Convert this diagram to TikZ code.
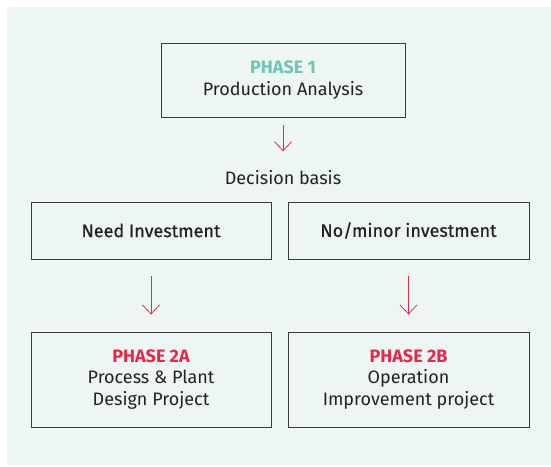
\documentclass[tikz,border=0pt]{standalone}
\usepackage{fontspec}
\setmainfont{Fira Sans}
\newfontfamily\medfont[FakeBold=0.6]{Fira Sans}
\usetikzlibrary{arrows.meta,positioning}

\definecolor{bgmint}{HTML}{EEF6F3}
\definecolor{phaseteal}{HTML}{6CC5B8}
\definecolor{phasered}{HTML}{E8284A}
\definecolor{boxline}{HTML}{3A3A3A}
\definecolor{inkgray}{HTML}{222222}

\begin{document}
\begin{tikzpicture}[x=1pt,y=-1pt,
	font=\fontsize{18}{21.5}\selectfont,
	phbox/.style={draw=boxline,line width=0.9pt,align=center,inner sep=0pt,
		text=inkgray},
	arr/.style={draw=phasered,line width=0.8pt,
		-{Straight Barb[length=9pt,width=17pt,line width=0.8pt]}}]
	% page and backdrop
	\useasboundingbox (0,0) rectangle (551,466);
	\fill[bgmint] (7,7) rectangle (551,465);
	% phase 1
	\node[phbox,minimum width=244pt,minimum height=74pt] (p1) at (283,80)
		{{\bfseries\color{phaseteal}PHASE 1}\\Production Analysis};
	\node[text=inkgray] (dec) at (283,178) {Decision basis};
	% decision boxes
	\node[phbox,minimum width=240pt,minimum height=57pt] (need) at (151,230.5)
		{\medfont Need Investment};
	\node[phbox,minimum width=241pt,minimum height=57pt] (nomin) at (408.5,230.5)
		{\medfont No/minor investment};
	% phase 2
	\node[phbox,minimum width=240pt,minimum height=95pt] (p2a) at (151,379.5)
		{{\bfseries\color{phasered}PHASE 2A}\\Process \& Plant\\Design Project};
	\node[phbox,minimum width=241pt,minimum height=95pt] (p2b) at (408.5,379.5)
		{{\bfseries\color{phasered}PHASE 2B}\\Operation\\Improvement project};
	% arrows
	\draw[arr,shorten <=8pt,shorten >=16pt] (p1) -- (dec);
	\draw[arr,shorten <=17pt,shorten >=17pt] (need) -- (p2a);
	\draw[arr,shorten <=17pt,shorten >=17pt] (nomin) -- (p2b);
\end{tikzpicture}
\end{document}
